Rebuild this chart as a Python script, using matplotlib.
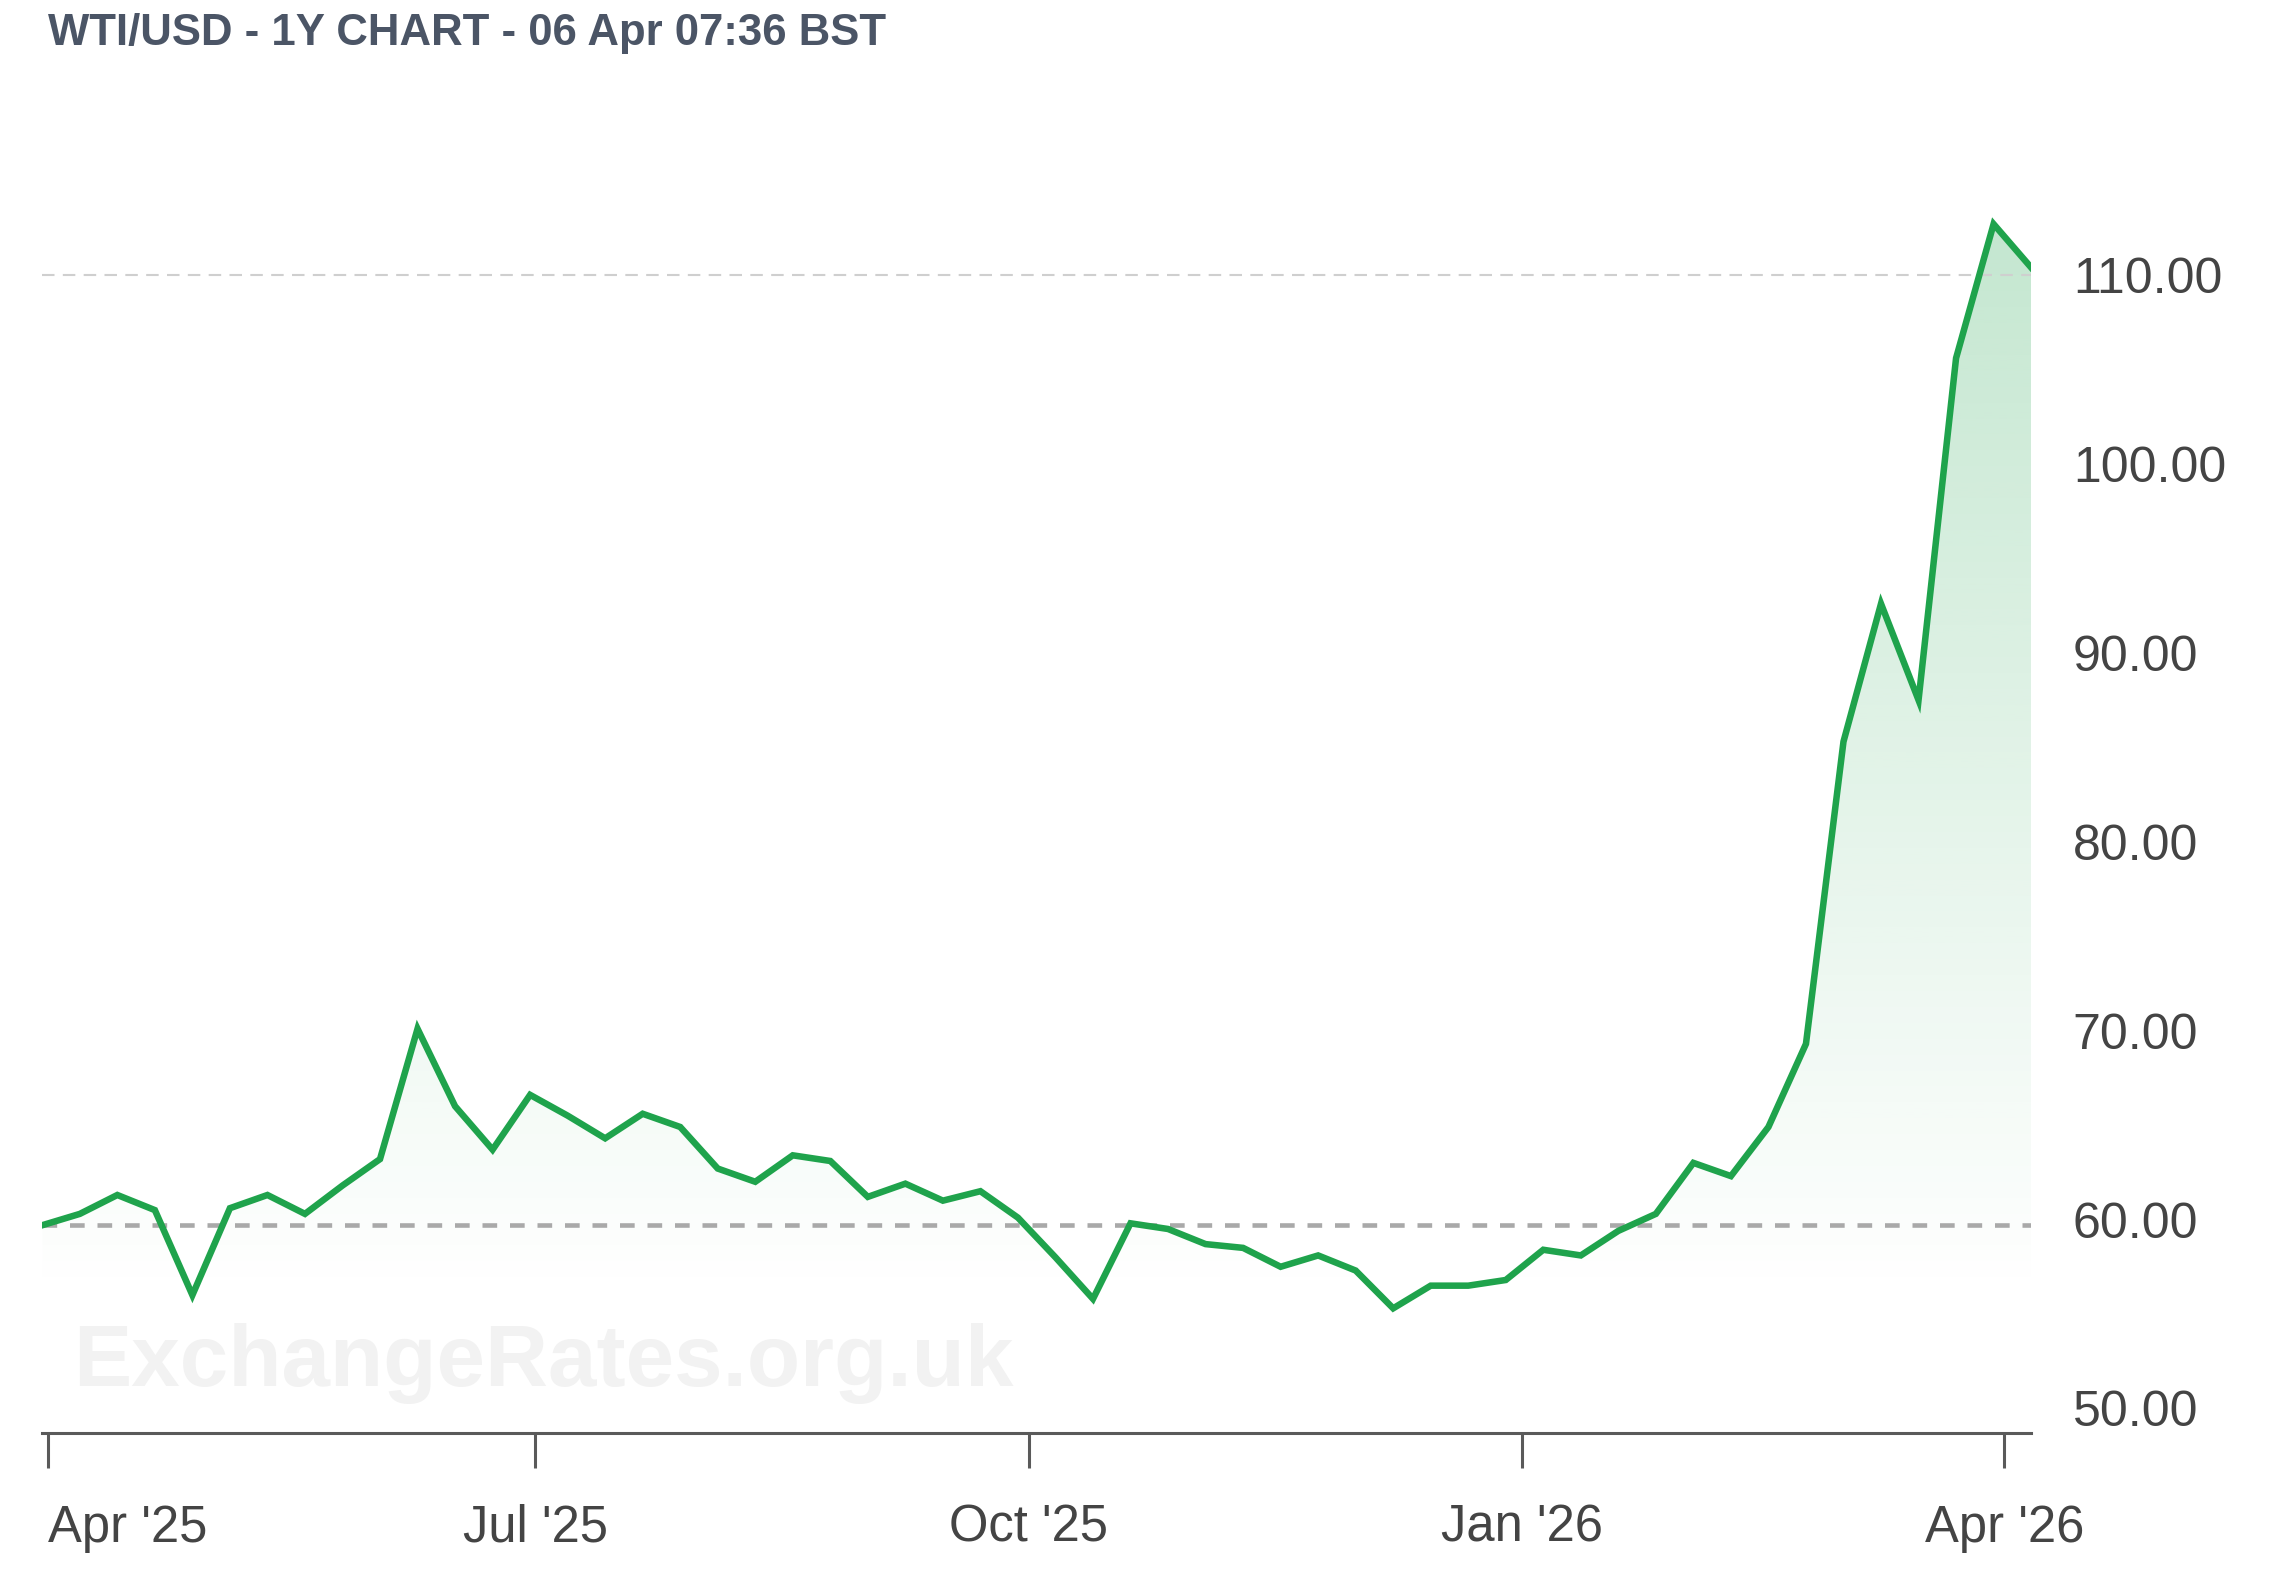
import numpy as np
import pandas as pd
import matplotlib
matplotlib.use('Agg')
import matplotlib.pyplot as plt
import matplotlib.dates as mdates
from matplotlib.colors import to_rgb

plt.rcParams['font.family'] = ['Liberation Sans', 'DejaVu Sans']

# ---------- data ----------
title = "WTI/USD - 1Y CHART - 06 Apr 07:36 BST"
watermark = "ExchangeRates.org.uk"

# weekly closes, 31 Mar 2025 .. 06 Apr 2026
dates = pd.date_range('2025-03-31', '2026-04-06', freq='7D')
price = [59.7, 60.3, 61.3, 60.5, 56.0, 60.6, 61.3, 60.3, 61.8, 63.2,
         70.1, 66.0, 63.7, 66.6, 65.5, 64.3, 65.6, 64.9, 62.7, 62.0,
         63.4, 63.1, 61.2, 61.9, 61.0, 61.5, 60.1, 58.0, 55.8, 59.8,
         59.5, 58.7, 58.5, 57.5, 58.1, 57.3, 55.3, 56.5, 56.5, 56.8,
         58.4, 58.1, 59.4, 60.3, 63.0, 62.3, 64.9, 69.3, 85.3, 92.6,
         87.5, 105.6, 112.7, 110.4]
open_level = 59.7      # lower dashed line
current_level = 110.0  # upper dashed line

tick_dates = pd.to_datetime(['2025-04-01', '2025-07-01', '2025-10-01',
                             '2026-01-01', '2026-04-01'])
tick_labels = ["Apr '25", "Jul '25", "Oct '25", "Jan '26", "Apr '26"]
y_ticks = [50, 60, 70, 80, 90, 100, 110]

green = '#1fa34c'
y_lo, y_hi = 48.7, 115.0

# ---------- figure ----------
fig = plt.figure(figsize=(22.86, 15.94), dpi=100)
ax = fig.add_axes([0.0185, 0.101, 0.870, 0.7857])

x = mdates.date2num(dates)

# gradient fill under the line
poly = ax.fill_between(x, price, y_lo, color='none', lw=0)
grad = np.zeros((256, 1, 4))
grad[:, :, :3] = to_rgb(green)
v = np.linspace(y_hi, y_lo, 256)
grad[:, 0, 3] = np.clip((v - 56) / (112 - 56), 0, 1) * 0.26
im = ax.imshow(grad, extent=[x[0], x[-1], y_lo, y_hi], aspect='auto',
               origin='upper', zorder=1, interpolation='bilinear')
im.set_clip_path(poly.get_paths()[0], transform=ax.transData)

# dashed reference lines
ax.axhline(open_level, color='#a9a9a9', lw=3.3, dashes=(3.2, 2.8), zorder=2)
ax.axhline(current_level, color='#cfcfcf', lw=1.5, dashes=(6, 4), zorder=2)

ax.plot(x, price, color=green, lw=4.7, solid_joinstyle='miter', zorder=3)

ax.set_xlim(x[0], x[-1])
ax.set_ylim(y_lo, y_hi)

# axes styling
for s in ['top', 'left', 'right']:
    ax.spines[s].set_visible(False)
ax.spines['bottom'].set_color('#5a5a5a')
ax.spines['bottom'].set_linewidth(2.2)

ax.set_xticks(mdates.date2num(tick_dates))
ax.set_xticklabels(tick_labels)
ax.tick_params(axis='x', length=25, width=2.2, color='#5a5a5a',
               labelsize=36.5, labelcolor='#444444', pad=26)
ax.get_xticklabels()[0].set_horizontalalignment('left')

ax.yaxis.tick_right()
ax.set_yticks(y_ticks)
ax.set_yticklabels([f'{t:.2f}' for t in y_ticks])
ax.tick_params(axis='y', length=0, labelsize=36, labelcolor='#444444', pad=30)

# watermark and title
fig.text(0.032, 0.1445, watermark, fontsize=62.8, fontweight='bold',
         color='#f2f2f2', va='center', ha='left', zorder=0)
fig.text(0.021, 0.979, title, fontsize=31.5, fontweight='bold',
         color='#4b5566', va='center', ha='left',
         family=['Liberation Sans Narrow', 'Liberation Sans'])

fig.savefig('out.png', dpi=100, facecolor='white')
